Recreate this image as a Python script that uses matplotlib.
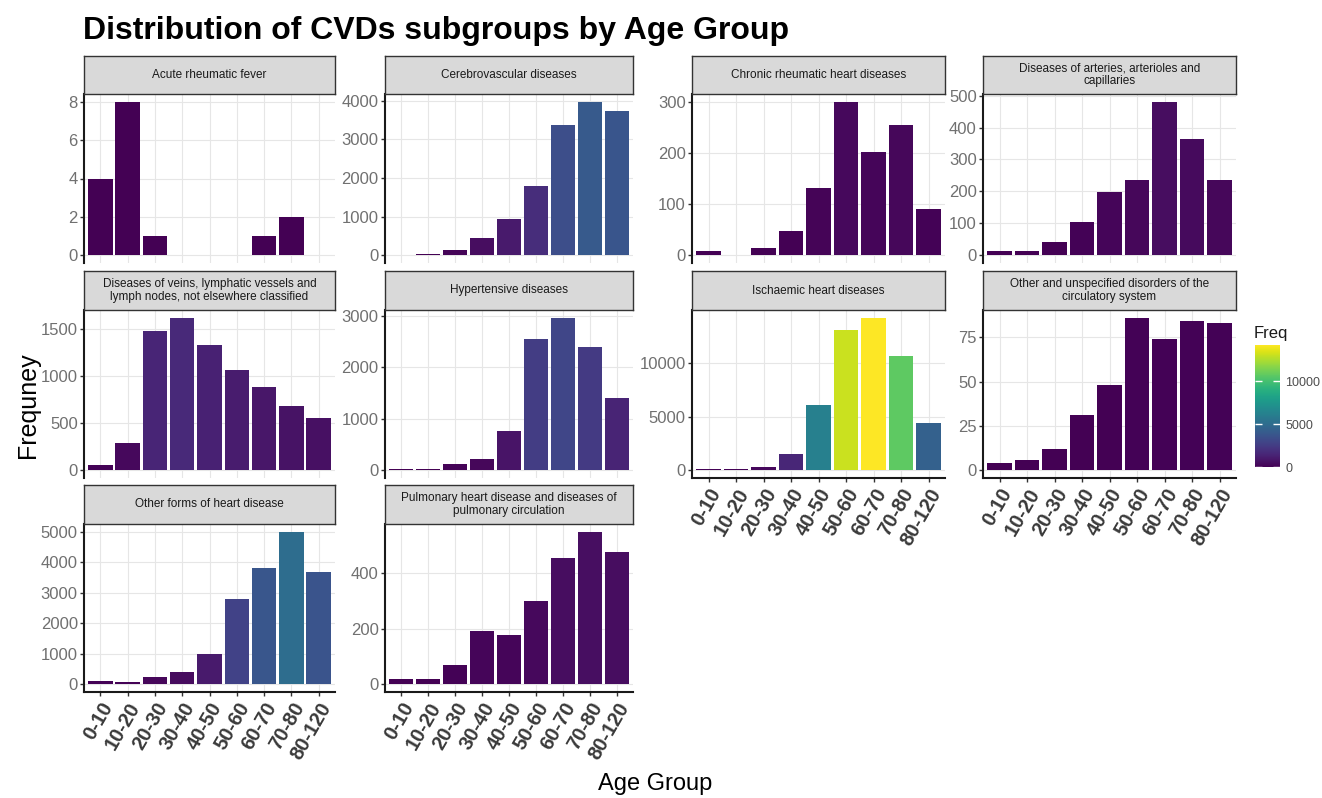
import numpy as np
import matplotlib
matplotlib.use("Agg")
import matplotlib.pyplot as plt
from matplotlib import font_manager
from matplotlib.colors import Normalize
from matplotlib.cm import ScalarMappable

# ---- data -------------------------------------------------------------
age_groups = ["0-10", "10-20", "20-30", "30-40", "40-50",
              "50-60", "60-70", "70-80", "80-120"]

nan = np.nan
acute_rheumatic_fever = [4, 8, 1, nan, nan, nan, 1, 2, nan]
cerebrovascular = [nan, 45, 140, 445, 950, 1800, 3380, 3975, 3740]
chronic_rheumatic = [9, nan, 14, 48, 132, 301, 203, 256, 91]
arteries = [13, 13, 43, 105, 198, 235, 481, 365, 235]
veins = [56, 286, 1471, 1616, 1330, 1062, 886, 681, 558]
hypertensive = [20, 20, 130, 227, 771, 2547, 2968, 2404, 1400]
ischaemic = [100, 90, 280, 1520, 6118, 13100, 14220, 10680, 4380]
other_unspecified = [4, 6, 12, 31, 48, 86, 74, 84, 83]
other_heart = [110, 65, 240, 418, 990, 2800, 3824, 5000, 3680]
pulmonary = [18, 18, 71, 192, 178, 298, 453, 547, 473]

subgroups = [
    "Acute rheumatic fever",
    "Cerebrovascular diseases",
    "Chronic rheumatic heart diseases",
    "Diseases of arteries, arterioles and\ncapillaries",
    "Diseases of veins, lymphatic vessels and\nlymph nodes, not elsewhere classified",
    "Hypertensive diseases",
    "Ischaemic heart diseases",
    "Other and unspecified disorders of the\ncirculatory system",
    "Other forms of heart disease",
    "Pulmonary heart disease and diseases of\npulmonary circulation",
]
freqs = [acute_rheumatic_fever, cerebrovascular, chronic_rheumatic, arteries,
         veins, hypertensive, ischaemic, other_unspecified, other_heart,
         pulmonary]
y_breaks = [
    [0, 2, 4, 6, 8],
    [0, 1000, 2000, 3000, 4000],
    [0, 100, 200, 300],
    [0, 100, 200, 300, 400, 500],
    [0, 500, 1000, 1500],
    [0, 1000, 2000, 3000],
    [0, 5000, 10000],
    [0, 25, 50, 75],
    [0, 1000, 2000, 3000, 4000, 5000],
    [0, 200, 400],
]
legend_breaks = [0, 5000, 10000]

# ---- fonts ------------------------------------------------------------
installed = {f.name for f in font_manager.fontManager.ttflist}
base = "Liberation Sans Narrow" if "Liberation Sans Narrow" in installed else "Liberation Sans"
plt.rcParams["font.family"] = [base, "DejaVu Sans"]

# ---- layout (pixel boxes) --------------------------------------------
W, H = 1322, 798
fig = plt.figure(figsize=(W / 100, H / 100), dpi=100)


def box(x0, y0, x1, y1):
    return [x0 / W, 1 - y1 / H, (x1 - x0) / W, (y1 - y0) / H]


col_x = [(84, 335), (385, 633), (692, 945), (983, 1236)]
strip_y = [(56, 94), (271, 310), (485, 524)]
panel_y = [(94, 263), (310, 478), (524, 692)]
bottom_panels = {6, 7, 8, 9}

cmap = plt.get_cmap("viridis")
vmax = np.nanmax(np.concatenate([np.asarray(f, float) for f in freqs]))
norm = Normalize(0, vmax)
pos = np.arange(len(age_groups))

for i, (name, vals, breaks) in enumerate(zip(subgroups, freqs, y_breaks)):
    r, c = divmod(i, 4)
    x0, x1 = col_x[c]
    ax = fig.add_axes(box(x0, panel_y[r][0], x1, panel_y[r][1]))
    sax = fig.add_axes(box(x0, strip_y[r][0], x1, strip_y[r][1]))

    v = np.asarray(vals, float)
    m = ~np.isnan(v)
    ax.bar(pos[m], v[m], width=0.9, color=cmap(norm(v[m])), zorder=2)

    top = np.nanmax(v)
    ax.set_ylim(-0.05 * top, 1.05 * top)
    ax.set_xlim(-0.6, len(age_groups) - 0.4)
    ax.set_yticks(breaks)
    ax.set_xticks(pos)
    ax.set_axisbelow(True)
    ax.grid(True, color="#e6e6e6", lw=0.8)
    for s in ("top", "right"):
        ax.spines[s].set_visible(False)
    ax.spines["left"].set_color("#1a1a1a")
    ax.spines["left"].set_linewidth(1.5)
    ax.tick_params(axis="y", labelsize=12, labelcolor="#707070",
                   length=3, width=1, color="#333333", pad=1.5)
    if i in bottom_panels:
        ax.spines["bottom"].set_color("#1a1a1a")
        ax.spines["bottom"].set_linewidth(1.5)
        ax.set_xticklabels(age_groups, rotation=60, ha="right", va="top",
                           rotation_mode="anchor", fontsize=14.5,
                           fontweight="bold", color="#3a3a3a")
        ax.tick_params(axis="x", length=3, width=1, color="#333333", pad=2)
    else:
        ax.spines["bottom"].set_visible(False)
        ax.tick_params(axis="x", length=0, labelbottom=False)

    sax.set_facecolor("#d9d9d9")
    sax.set_xticks([])
    sax.set_yticks([])
    for s in sax.spines.values():
        s.set_color("#333333")
        s.set_linewidth(1.0)
    sax.text(0.5, 0.5, name, ha="center", va="center", fontsize=8.5,
             color="#1a1a1a", linespacing=1.05, transform=sax.transAxes)

# ---- colour bar -------------------------------------------------------
cax = fig.add_axes(box(1255, 345, 1280, 467))
cb = fig.colorbar(ScalarMappable(norm=norm, cmap=cmap), cax=cax)
cb.outline.set_visible(False)
cb.set_ticks(legend_breaks)
cax.tick_params(labelsize=9, labelcolor="#4d4d4d", length=5, width=1,
                color="white", direction="in", left=True, right=True, pad=4)
fig.text(1254 / W, 1 - 333 / H, "Freq", fontsize=12, color="#1a1a1a",
         ha="left", va="center")

# ---- titles -----------------------------------------------------------
fig.text(83 / W, 1 - 31 / H, "Distribution of CVDs subgroups by Age Group",
         fontsize=23, fontweight="bold", ha="left", va="center")
fig.text(28 / W, 1 - 405 / H, "Frequney", rotation=90, fontsize=18,
         ha="center", va="center")
fig.text(655 / W, 1 - 784 / H, "Age Group", fontsize=17,
         ha="center", va="center")

fig.savefig("out.png", dpi=100, facecolor="white")
